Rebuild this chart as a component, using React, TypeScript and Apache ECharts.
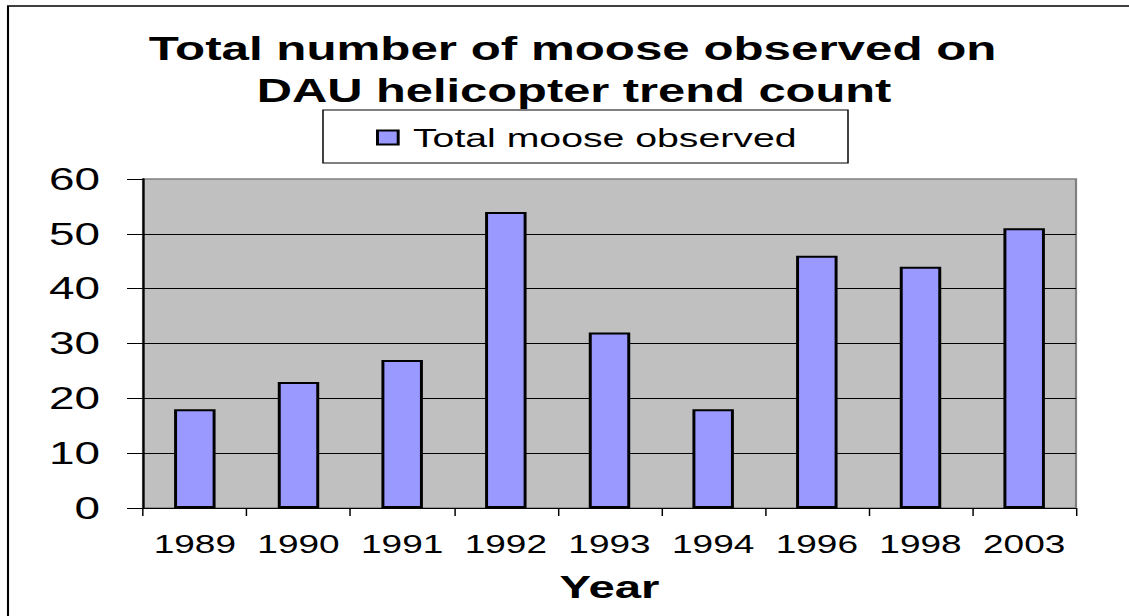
import React, { useEffect, useRef } from "react";
import * as echarts from "echarts";

const years = ["1989", "1990", "1991", "1992", "1993", "1994", "1996", "1998", "2003"];
const mooseObserved = [18, 23, 27, 54, 32, 18, 46, 44, 51];
const yTicks = { min: 0, max: 60, interval: 10 };
const titleLines = ["Total number of moose observed on", "DAU helicopter trend count"];
const seriesName = "Total moose observed";
const xAxisName = "Year";

// The reference is horizontally stretched; render narrower and stretch.
const SX = 1.48;
const PAGE_W = 1129;
const PAGE_H = 616;
const LOCAL_W = PAGE_W / SX;
const px = (v: number) => v / SX; // page x -> local x

const FONT = "'Liberation Sans', Arial, sans-serif";

export default function App() {
  const ref = useRef<HTMLDivElement>(null);

  useEffect(() => {
    if (!ref.current) return;
    const chart = echarts.init(ref.current, undefined, { renderer: "svg" });
    const gridLeft = px(143);
    const gridRight = px(1076);
    const titleStyle = {
      fontFamily: FONT,
      fontSize: 33,
      fontWeight: "bold",
      color: "#000",
      lineHeight: 42,
    };
    chart.setOption({
      animation: false,
      backgroundColor: "#ffffff",
      textStyle: { fontFamily: FONT, color: "#000" },
      title: [
        {
          text: titleLines[0],
          left: px(572.5),
          top: 28,
          padding: 0,
          textAlign: "center",
          textStyle: { ...titleStyle, fontSize: 33.3 },
        },
        {
          text: titleLines[1],
          left: px(574),
          top: 70,
          padding: 0,
          textAlign: "center",
          textStyle: titleStyle,
        },
      ],
      legend: {
        data: [seriesName],
        left: px(376),
        top: 124,
        padding: 0,
        itemWidth: 14,
        itemHeight: 14,
        icon: "rect",
        textStyle: {
          fontFamily: FONT,
          fontSize: 26.5,
          color: "#000",
          lineHeight: 27,
          padding: [0, 0, 0, 5],
        },
      },
      graphic: [
        {
          type: "rect",
          shape: { x: px(8), y: 6, width: LOCAL_W + 20, height: PAGE_H + 20 },
          style: { fill: "none", stroke: "#000", lineWidth: 1.4 },
          silent: true,
        },
        {
          type: "rect",
          shape: { x: px(323), y: 110, width: px(848) - px(323), height: 53 },
          style: { fill: "none", stroke: "#000", lineWidth: 1 },
          silent: true,
        },
      ],
      grid: {
        left: gridLeft,
        width: gridRight - gridLeft,
        top: 179,
        height: 329,
        show: true,
        backgroundColor: "#c0c0c0",
        borderColor: "#808080",
        borderWidth: 1.5,
        containLabel: false,
      },
      xAxis: {
        type: "category",
        data: years,
        name: xAxisName,
        nameLocation: "middle",
        nameGap: 63,
        nameTextStyle: { fontFamily: FONT, fontSize: 32, fontWeight: "bold", color: "#000" },
        axisLine: { show: true, lineStyle: { color: "#000", width: 1 } },
        axisTick: { show: true, length: 8, alignWithLabel: false, lineStyle: { color: "#000", width: 1 } },
        axisLabel: {
          interval: 0,
          margin: 24,
          fontFamily: FONT,
          fontSize: 25,
          color: "#000",
        },
        splitLine: { show: false },
      },
      yAxis: {
        type: "value",
        min: yTicks.min,
        max: yTicks.max,
        interval: yTicks.interval,
        axisLine: { show: true, lineStyle: { color: "#000", width: 1.5 } },
        axisTick: { show: true, length: px(16), lineStyle: { color: "#000", width: 1 } },
        axisLabel: {
          margin: px(143) - px(100),
          fontFamily: FONT,
          fontSize: 31,
          color: "#000",
        },
        splitLine: {
          show: true,
          showMinLine: false,
          showMaxLine: false,
          lineStyle: { color: "#000", width: 1 },
        },
      },
      series: [
        {
          name: seriesName,
          type: "bar",
          data: mooseObserved,
          barCategoryGap: "60%",
          itemStyle: { color: "#9999ff", borderColor: "#000", borderWidth: 2 },
        },
      ],
    });
    return () => chart.dispose();
  }, []);

  return (
    <div
      style={{
        position: "fixed",
        left: 0,
        top: 0,
        width: LOCAL_W,
        height: PAGE_H,
        transform: `scaleX(${SX})`,
        transformOrigin: "0 0",
        background: "#fff",
      }}
    >
      <div ref={ref} style={{ width: "100%", height: "100%" }} />
    </div>
  );
}
